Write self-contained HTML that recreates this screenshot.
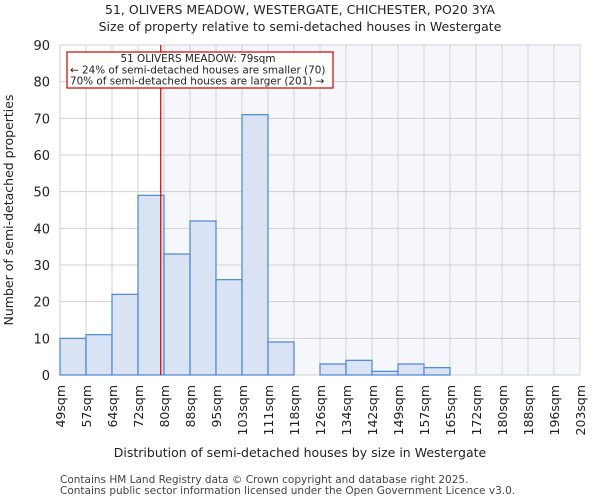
<!DOCTYPE html>
<html><head><meta charset="utf-8"><style>
body{margin:0;background:#fff;font-family:"DejaVu Sans","Liberation Sans",sans-serif;}
</style></head><body>
<svg id="c" width="600" height="500" xmlns="http://www.w3.org/2000/svg" font-family="DejaVu Sans, Liberation Sans, sans-serif">
<text x="300" y="14" text-anchor="middle" font-size="12.5" fill="#222">51, OLIVERS MEADOW, WESTERGATE, CHICHESTER, PO20 3YA</text>
<text x="300" y="31" text-anchor="middle" font-size="12.5" fill="#222">Size of property relative to semi-detached houses in Westergate</text>
<g id="plot"></g>
<text x="300" y="457" text-anchor="middle" font-size="12.5" fill="#222">Distribution of semi-detached houses by size in Westergate</text>
<text transform="translate(13,210) rotate(-90)" text-anchor="middle" font-size="12.5" fill="#222">Number of semi-detached properties</text>
<text x="60" y="483" font-size="10.5" fill="#444">Contains HM Land Registry data © Crown copyright and database right 2025.</text>
<text x="60" y="494" font-size="10.5" fill="#444">Contains public sector information licensed under the Open Government Licence v3.0.</text>
</svg>
<script>
const binLabels=["49sqm","57sqm","64sqm","72sqm","80sqm","88sqm","95sqm","103sqm","111sqm","118sqm","126sqm","134sqm","142sqm","149sqm","157sqm","165sqm","172sqm","180sqm","188sqm","196sqm","203sqm"];
const counts=[10,11,22,49,33,42,26,71,9,0,3,4,1,3,2,0,0,0,0,0];
const yTicks=[0,10,20,30,40,50,60,70,80,90];
const markerBinPos=3.875; // 79sqm within bin 72-80
const x0=60,x1=580,y0=375,y1=45,yMax=90;
const nb=counts.length,bw=(x1-x0)/nb;
const X=i=>x0+i*bw, Y=v=>y0-(v/yMax)*(y0-y1);
const NS="http://www.w3.org/2000/svg",g=document.getElementById('plot');
function mk(t,a){const e=document.createElementNS(NS,t);for(const k in a)e.setAttribute(k,a[k]);g.appendChild(e);return e;}
const mx=X(markerBinPos);
let e=mk('rect',{x:mx,y:y1,width:x1-mx,height:y0-y1,fill:'#f5f7fd'});


yTicks.forEach(v=>{
 let l=mk('line',{x1:x0,x2:x1,y1:Y(v),y2:Y(v),stroke:'#d0d0d0','stroke-width':1});
 
 
 let t=mk('text',{x:x0-10,y:Y(v)+5,'text-anchor':'end','font-size':13,fill:'#222'});t.textContent=v;
 
 
});
binLabels.forEach((s,i)=>{
 let l=mk('line',{x1:X(i),x2:X(i),y1:y1,y2:y0,stroke:'#d0d0d0','stroke-width':1});
 
 
 let t=mk('text',{transform:`translate(${X(i)+5},${y0+10}) rotate(-90)`,'text-anchor':'end','font-size':12.5,fill:'#222'});t.textContent=s;
 
 
});
counts.forEach((v,i)=>{
 if(v<=0)return;
 let r=mk('rect',{x:X(i),y:Y(v),width:bw,height:y0-Y(v),fill:'#d9e3f4',stroke:'#4a86d4','stroke-width':1.2});
 
 
});
e=mk('line',{x1:mx,x2:mx,y1:y1,y2:y0,stroke:'#cc0000','stroke-width':1.2});


e=mk('rect',{x:67,y:52,width:266,height:36,fill:'#fff',stroke:'#cc0000','stroke-width':1.2});


[["51 OLIVERS MEADOW: 79sqm",62],["← 24% of semi-detached houses are smaller (70)",73.5],["70% of semi-detached houses are larger (201) →",84.5]].forEach(([s,y],k)=>{
 let t=mk('text',{x:k==0?198:70,y:y,'text-anchor':k==0?'middle':'start','font-size':10.4,fill:'#222'});t.textContent=s;
 
 
});
</script>
</body></html>
